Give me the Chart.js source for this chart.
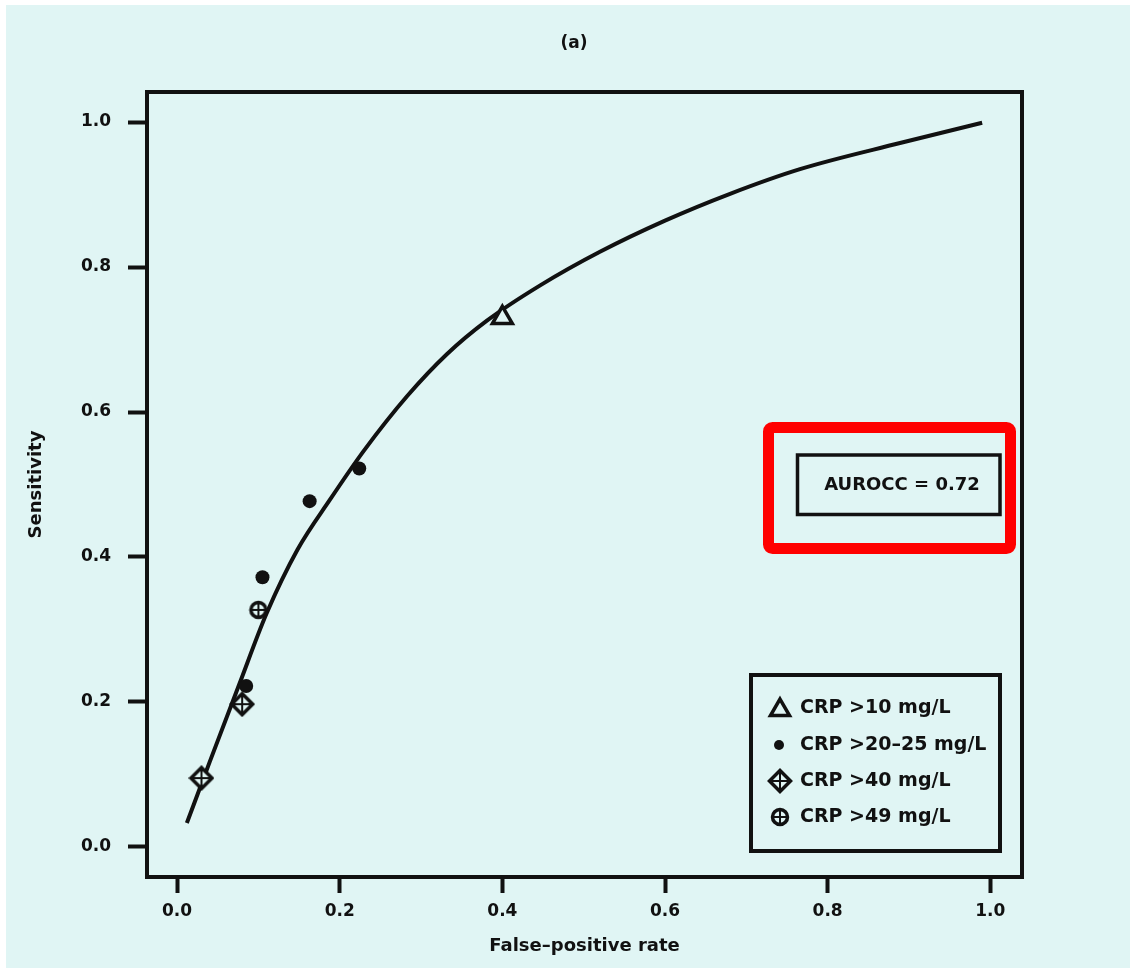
<!DOCTYPE html>
<html>
<head>
<meta charset="utf-8">
<title>ROC curve (a)</title>
<script src="https://cdn.jsdelivr.net/npm/chart.js@4.4.0/dist/chart.umd.min.js"></script>
<style>
    html, body { margin: 0; padding: 0; background: #fff; }
    #wrap { width: 1130px; height: 968px; }
</style>
</head>
<body>
<div id="wrap"><canvas id="rocChart" width="1130" height="968"></canvas></div>
<script>
// ============================================
// Data
// ============================================
const xTicks = [0.0, 0.2, 0.4, 0.6, 0.8, 1.0];
const yTicks = [0.0, 0.2, 0.4, 0.6, 0.8, 1.0];

// fitted ROC curve
const curveX = [0.012, 0.040, 0.076, 0.110, 0.148, 0.188, 0.230, 0.283, 0.332, 0.381, 0.447, 0.520, 0.600, 0.680, 0.766, 0.889, 0.990];
const curveY = [0.033, 0.117, 0.223, 0.322, 0.410, 0.479, 0.547, 0.622, 0.680, 0.726, 0.775, 0.821, 0.864, 0.901, 0.935, 0.971, 0.999];

// study points by CRP cut-off
const crp10X = [0.400];
const crp10Y = [0.730];
const crp20X = [0.085, 0.105, 0.163, 0.224];
const crp20Y = [0.222, 0.372, 0.477, 0.522];
const crp40X = [0.030, 0.080];
const crp40Y = [0.095, 0.197];
const crp49X = [0.100];
const crp49Y = [0.327];

const seriesLabels = ['CRP >10 mg/L', 'CRP >20\u201325 mg/L', 'CRP >40 mg/L', 'CRP >49 mg/L'];
const aurocLabel = 'AUROCC = 0.72';

// ============================================
// Look
// ============================================
const BG = '#e0f5f4';
const INK = '#111';
const FONT = '"DejaVu Sans", "Liberation Sans", sans-serif';

function pts(xs, ys) {
    return xs.map((x, i) => ({ x: x, y: ys[i] }));
}

function diamondMarker(size) {
    const c = document.createElement('canvas');
    c.width = c.height = size;
    const g = c.getContext('2d');
    const m = size / 2, r = m - 2.5;
    g.strokeStyle = INK;
    g.fillStyle = BG;
    g.lineWidth = 3.5;
    g.lineJoin = 'miter';
    g.beginPath();
    g.moveTo(m, m - r); g.lineTo(m + r, m); g.lineTo(m, m + r); g.lineTo(m - r, m);
    g.closePath();
    g.fill(); g.stroke();
    g.lineWidth = 2;
    g.beginPath();
    g.moveTo(m, m - r + 2); g.lineTo(m, m + r - 2);
    g.moveTo(m - r + 2, m); g.lineTo(m + r - 2, m);
    g.stroke();
    return c;
}

function circleMarker(size) {
    const c = document.createElement('canvas');
    c.width = c.height = size;
    const g = c.getContext('2d');
    const m = size / 2, r = m - 2.5;
    g.strokeStyle = INK;
    g.fillStyle = BG;
    g.lineWidth = 3.5;
    g.beginPath();
    g.arc(m, m, r, 0, Math.PI * 2);
    g.fill(); g.stroke();
    g.lineWidth = 2;
    g.beginPath();
    g.moveTo(m, m - r + 1); g.lineTo(m, m + r - 1);
    g.moveTo(m - r + 1, m); g.lineTo(m + r - 1, m);
    g.stroke();
    return c;
}

const diamondImg = diamondMarker(26);
const circleImg = circleMarker(20);

function drawTriangle(ctx, x, y, r) {
    ctx.beginPath();
    ctx.moveTo(x, y - r);
    ctx.lineTo(x + r * Math.sin(Math.PI / 3), y + r / 2);
    ctx.lineTo(x - r * Math.sin(Math.PI / 3), y + r / 2);
    ctx.closePath();
    ctx.fillStyle = BG;
    ctx.fill();
    ctx.lineWidth = 3.5;
    ctx.lineJoin = 'miter';
    ctx.strokeStyle = INK;
    ctx.stroke();
}

// ============================================
// Background, frame, legend and AUROCC note
// ============================================
const backdrop = {
    id: 'backdrop',
    beforeDraw(chart) {
        const ctx = chart.ctx;
        ctx.save();
        ctx.fillStyle = '#fff';
        ctx.fillRect(0, 0, chart.width, chart.height);
        ctx.fillStyle = BG;
        ctx.fillRect(6, 5, chart.width - 6, chart.height - 5);
        ctx.restore();
    }
};

const decorations = {
    id: 'decorations',
    afterDraw(chart) {
        const ctx = chart.ctx;
        const a = chart.chartArea;
        ctx.save();

        // plot frame
        ctx.strokeStyle = INK;
        ctx.lineWidth = 4;
        ctx.lineJoin = 'miter';
        ctx.strokeRect(a.left, a.top, a.right - a.left, a.bottom - a.top);

        // panel title
        ctx.fillStyle = INK;
        ctx.font = 'bold 17px ' + FONT;
        ctx.textAlign = 'center';
        ctx.textBaseline = 'middle';
        ctx.fillText('(a)', 574, 44);

        // AUROCC box
        ctx.lineWidth = 3.5;
        ctx.strokeRect(797.5, 455, 202.5, 59.5);
        ctx.font = 'bold 18px ' + FONT;
        ctx.fillText(aurocLabel, 902, 485);

        // red highlight
        ctx.strokeStyle = '#ff0000';
        ctx.lineWidth = 11;
        ctx.lineJoin = 'round';
        ctx.beginPath();
        ctx.roundRect(768.5, 427.5, 242, 121, 4);
        ctx.stroke();

        // legend box
        ctx.strokeStyle = INK;
        ctx.lineJoin = 'miter';
        ctx.lineWidth = 4;
        ctx.strokeRect(751, 675, 249, 176);

        const rows = [708, 745, 781, 817];
        ctx.textAlign = 'left';
        ctx.font = 'bold 19px ' + FONT;
        seriesLabels.forEach((label, i) => {
            ctx.fillStyle = INK;
            ctx.fillText(label, 800, rows[i]);
        });
        drawTriangle(ctx, 780, rows[0] + 2, 11);
        ctx.fillStyle = INK;
        ctx.beginPath();
        ctx.arc(779, rows[1], 5, 0, Math.PI * 2);
        ctx.fill();
        ctx.drawImage(diamondImg, 780 - 13, rows[2] - 13);
        ctx.drawImage(circleImg, 780 - 10, rows[3] - 10);

        ctx.restore();
    }
};

// ============================================
// Chart
// ============================================
const tickFont = { family: FONT, size: 17, weight: 'bold' };
const titleFont = { family: FONT, size: 18, weight: 'bold' };

new Chart(document.getElementById('rocChart'), {
    type: 'scatter',
    data: {
        datasets: [
            {
                label: seriesLabels[0],
                data: pts(crp10X, crp10Y),
                pointStyle: 'triangle',
                pointRadius: 11.5,
                pointBorderWidth: 3.5,
                pointBackgroundColor: BG,
                pointBorderColor: INK,
                order: 1
            },
            {
                label: seriesLabels[1],
                data: pts(crp20X, crp20Y),
                pointStyle: 'circle',
                pointRadius: 7,
                pointBorderWidth: 0,
                pointBackgroundColor: INK,
                order: 1
            },
            {
                label: seriesLabels[2],
                data: pts(crp40X, crp40Y),
                pointStyle: diamondImg,
                order: 1
            },
            {
                label: seriesLabels[3],
                data: pts(crp49X, crp49Y),
                pointStyle: circleImg,
                order: 1
            },
            {
                label: 'ROC curve',
                data: pts(curveX, curveY),
                showLine: true,
                borderColor: INK,
                borderWidth: 4,
                cubicInterpolationMode: 'monotone',
                pointRadius: 0,
                order: 5
            }
        ]
    },
    options: {
        responsive: false,
        animation: false,
        layout: { padding: { left: 4, top: 92, right: 108, bottom: 0 } },
        plugins: {
            legend: { display: false },
            tooltip: { enabled: false }
        },
        scales: {
            x: {
                type: 'linear',
                min: -0.037,
                max: 1.039,
                afterBuildTicks: s => { s.ticks = xTicks.map(v => ({ value: v })); },
                afterFit: s => { s.height = 91; },
                ticks: {
                    color: INK,
                    font: tickFont,
                    padding: 8,
                    maxRotation: 0,
                    callback: v => Number(v).toFixed(1)
                },
                grid: {
                    drawOnChartArea: false,
                    drawTicks: true,
                    tickLength: 16,
                    tickWidth: 4,
                    tickColor: INK
                },
                border: { display: false },
                title: {
                    display: true,
                    text: 'False\u2013positive rate',
                    color: INK,
                    font: titleFont,
                    padding: { top: 0, bottom: 11 }
                }
            },
            y: {
                type: 'linear',
                min: -0.0414,
                max: 1.0414,
                afterBuildTicks: s => { s.ticks = yTicks.map(v => ({ value: v })); },
                afterFit: s => { s.width = 143; },
                ticks: {
                    color: INK,
                    font: tickFont,
                    padding: 17,
                    callback: v => Number(v).toFixed(1)
                },
                grid: {
                    drawOnChartArea: false,
                    drawTicks: true,
                    tickLength: 19,
                    tickWidth: 4,
                    tickColor: INK
                },
                border: { display: false },
                title: {
                    display: true,
                    text: 'Sensitivity',
                    color: INK,
                    font: titleFont,
                    padding: { top: 22, bottom: 0 }
                }
            }
        }
    },
    plugins: [backdrop, decorations]
});
</script>
</body>
</html>
